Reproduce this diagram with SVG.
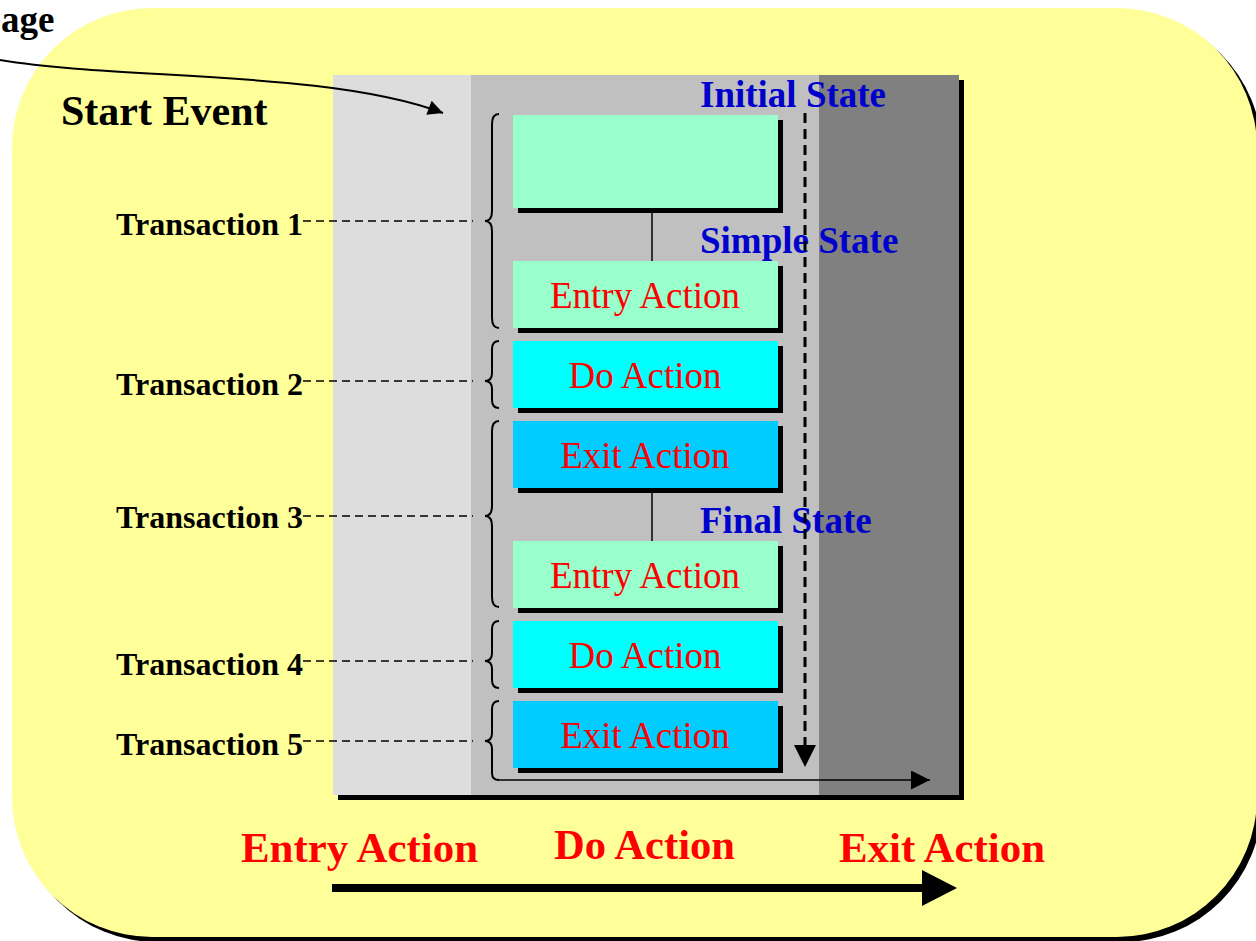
<svg xmlns="http://www.w3.org/2000/svg" width="1256" height="941" viewBox="0 0 1256 941">
  <defs>
    <style>
      .lbl { font-family: "Liberation Serif", "Times New Roman", serif; font-weight: bold; fill: #000; }
      .trans { font-size: 31px; }
      .state { font-family: "Liberation Serif", "Times New Roman", serif; font-weight: bold; font-size: 37px; fill: #0000CC; }
      .act { font-family: "Liberation Serif", "Times New Roman", serif; font-size: 37px; fill: #FF0000; text-anchor: middle; }
      .big { font-family: "Liberation Serif", "Times New Roman", serif; font-weight: bold; font-size: 42px; fill: #FF0000; }
      .shadow { fill: #000; }
      .aqua { fill: #99FFCC; }
      .cyan { fill: #00FFFF; }
      .sky { fill: #00CCFF; }
      .brace { fill: none; stroke: #000; stroke-width: 2; }
      .dash { fill: none; stroke: #000; stroke-width: 1.5; stroke-dasharray: 8 5; }
      .link { fill: none; stroke: #000; stroke-width: 1.5; }
    </style>
    <marker id="arrowSmall" viewBox="0 0 10 10" refX="10" refY="5" markerWidth="23" markerHeight="15" markerUnits="userSpaceOnUse" orient="auto">
      <path d="M0,0 L10,5 L0,10 z" fill="#000"/>
    </marker>
    <marker id="arrowDown" viewBox="0 0 10 10" refX="10" refY="5" markerWidth="22" markerHeight="22" markerUnits="userSpaceOnUse" orient="auto">
      <path d="M0,0 L10,5 L0,10 z" fill="#000"/>
    </marker>
    <marker id="arrowRight" viewBox="0 0 10 10" refX="10" refY="5" markerWidth="20" markerHeight="19" markerUnits="userSpaceOnUse" orient="auto">
      <path d="M0,0 L10,5 L0,10 z" fill="#000"/>
    </marker>
  </defs>

  <!-- background rounded panel -->
  <g id="background">
    <rect x="17" y="13" width="1245" height="929" rx="140" ry="140" class="shadow"/>
    <rect x="12" y="8" width="1245" height="929" rx="140" ry="140" fill="#FFFF99"/>
  </g>

  <!-- gray zone panel -->
  <g id="zones">
    <rect x="338" y="80" width="626" height="720" class="shadow"/>
    <rect x="333" y="75" width="138" height="720" fill="#DDDDDD"/>
    <rect x="471" y="75" width="348" height="720" fill="#C0C0C0"/>
    <rect x="819" y="75" width="140" height="720" fill="#808080"/>
  </g>

  <!-- state boxes -->
  <g id="box-initial">
    <rect x="518" y="120" width="265" height="93" class="shadow"/>
    <rect x="513" y="115" width="265" height="93" class="aqua"/>
  </g>
  <g id="box-entry1">
    <rect x="518" y="266" width="265" height="67" class="shadow"/>
    <rect x="513" y="261" width="265" height="67" class="aqua"/>
    <text x="645" y="308" class="act">Entry Action</text>
  </g>
  <g id="box-do1">
    <rect x="518" y="346" width="265" height="67" class="shadow"/>
    <rect x="513" y="341" width="265" height="67" class="cyan"/>
    <text x="645" y="388" class="act">Do Action</text>
  </g>
  <g id="box-exit1">
    <rect x="518" y="426" width="265" height="67" class="shadow"/>
    <rect x="513" y="421" width="265" height="67" class="sky"/>
    <text x="645" y="468" class="act">Exit Action</text>
  </g>
  <g id="box-entry2">
    <rect x="518" y="546" width="265" height="67" class="shadow"/>
    <rect x="513" y="541" width="265" height="67" class="aqua"/>
    <text x="645" y="588" class="act">Entry Action</text>
  </g>
  <g id="box-do2">
    <rect x="518" y="626" width="265" height="67" class="shadow"/>
    <rect x="513" y="621" width="265" height="67" class="cyan"/>
    <text x="645" y="668" class="act">Do Action</text>
  </g>
  <g id="box-exit2">
    <rect x="518" y="706" width="265" height="67" class="shadow"/>
    <rect x="513" y="701" width="265" height="67" class="sky"/>
    <text x="645" y="748" class="act">Exit Action</text>
  </g>

  <!-- state labels -->
  <g id="label-initial"><text x="700" y="107" class="state">Initial State</text></g>
  <g id="label-simple"><text x="700" y="253" class="state">Simple State</text></g>
  <g id="label-final"><text x="700" y="533" class="state">Final State</text></g>

  <!-- left labels -->
  <g id="label-message"><text x="1" y="32" class="lbl" font-size="37">age</text></g>
  <g id="label-start"><text x="61" y="125" class="lbl" font-size="42">Start Event</text></g>
  <g id="label-t1"><text x="116" y="235" class="lbl trans" textLength="187" lengthAdjust="spacingAndGlyphs">Transaction 1</text></g>
  <g id="label-t2"><text x="116" y="395" class="lbl trans" textLength="187" lengthAdjust="spacingAndGlyphs">Transaction 2</text></g>
  <g id="label-t3"><text x="116" y="528" class="lbl trans" textLength="187" lengthAdjust="spacingAndGlyphs">Transaction 3</text></g>
  <g id="label-t4"><text x="116" y="675" class="lbl trans" textLength="187" lengthAdjust="spacingAndGlyphs">Transaction 4</text></g>
  <g id="label-t5"><text x="116" y="755" class="lbl trans" textLength="187" lengthAdjust="spacingAndGlyphs">Transaction 5</text></g>

  <!-- bottom labels -->
  <g id="label-bottom-entry"><text x="241" y="862" class="big" textLength="237" lengthAdjust="spacingAndGlyphs">Entry Action</text></g>
  <g id="label-bottom-do"><text x="554" y="859" class="big" textLength="181" lengthAdjust="spacingAndGlyphs">Do Action</text></g>
  <g id="label-bottom-exit"><text x="839" y="862" class="big" textLength="206" lengthAdjust="spacingAndGlyphs">Exit Action</text></g>

  <!-- connectors -->
  <g id="connectors">
    <!-- message arrow -->
    <path d="M0,60 C120,80 330,70 443,113" fill="none" stroke="#000" stroke-width="2" marker-end="url(#arrowSmall)"/>
    <!-- links between boxes -->
    <line x1="652" y1="208" x2="652" y2="261" class="link"/>
    <line x1="652" y1="488" x2="652" y2="541" class="link"/>
    <!-- braces -->
    <path class="brace" d="M499,114 Q492,114 492,124 L492,211 Q492,221 485,221 Q492,221 492,231 L492,318 Q492,328 499,328"/>
    <path class="brace" d="M499,341 Q492,341 492,349 L492,373 Q492,381 485,381 Q492,381 492,389 L492,400 Q492,408 499,408"/>
    <path class="brace" d="M499,421 Q492,421 492,431 L492,506 Q492,516 485,516 Q492,516 492,526 L492,597 Q492,607 499,607"/>
    <path class="brace" d="M499,621 Q492,621 492,629 L492,653 Q492,661 485,661 Q492,661 492,669 L492,680 Q492,688 499,688"/>
    <path class="brace" d="M499,701 Q492,701 492,709 L492,733 Q492,741 485,741 Q492,741 492,749 L492,773 Q492,780 499,780"/>
    <!-- time arrow continuing from last brace -->
    <line x1="498" y1="780" x2="930" y2="780" class="link" marker-end="url(#arrowRight)"/>
    <!-- dashed transaction leaders -->
    <line x1="303" y1="221" x2="473" y2="221" class="dash"/>
    <line x1="303" y1="381" x2="473" y2="381" class="dash"/>
    <line x1="303" y1="516" x2="473" y2="516" class="dash"/>
    <line x1="303" y1="661" x2="473" y2="661" class="dash"/>
    <line x1="303" y1="741" x2="473" y2="741" class="dash"/>
    <!-- dashed state timeline -->
    <line x1="805" y1="113" x2="805" y2="767" stroke="#000" stroke-width="3" stroke-dasharray="10 6" marker-end="url(#arrowDown)"/>
    <!-- big bottom arrow -->
    <line x1="332" y1="888" x2="924" y2="888" stroke="#000" stroke-width="8"/>
    <polygon points="922,870 957,888 922,906" fill="#000"/>
  </g>
</svg>
